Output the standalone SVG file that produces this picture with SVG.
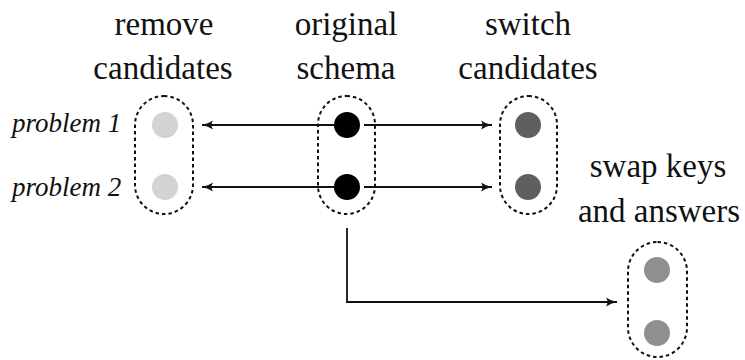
<svg xmlns="http://www.w3.org/2000/svg" width="745" height="360" viewBox="0 0 745 360">
<defs>
<marker id="ah" markerUnits="userSpaceOnUse" markerWidth="12" markerHeight="10" refX="11" refY="5" orient="auto">
<path d="M0,0.5 Q5,4 11,5 Q5,6 0,9.5 Q3,5 0,0.5 Z" fill="#111"/>
</marker>
</defs>
<rect width="745" height="360" fill="#fff"/>
<g id="labels" fill="#111">
<text font-family="'Liberation Serif'" font-size="33" text-anchor="middle" x="164" y="35">remove</text>
<text font-family="'Liberation Serif'" font-size="33" text-anchor="middle" x="163" y="79">candidates</text>
<text font-family="'Liberation Serif'" font-size="33" text-anchor="middle" x="346" y="35">original</text>
<text font-family="'Liberation Serif'" font-size="33" text-anchor="middle" x="346" y="79">schema</text>
<text font-family="'Liberation Serif'" font-size="33" text-anchor="middle" x="528" y="35">switch</text>
<text font-family="'Liberation Serif'" font-size="33" text-anchor="middle" x="528" y="79">candidates</text>
<text font-family="'Liberation Serif'" font-size="33" text-anchor="middle" x="658" y="177">swap keys</text>
<text font-family="'Liberation Serif'" font-size="33" text-anchor="middle" x="659" y="222">and answers</text>
<text font-family="'Liberation Serif'" font-size="27" font-style="italic" x="12" y="132">problem 1</text>
<text font-family="'Liberation Serif'" font-size="27" font-style="italic" x="12" y="196">problem 2</text>
</g>
<g id="connectors" fill="none" stroke="#111" stroke-width="1.8">
<line x1="334" y1="125" x2="202" y2="125" marker-end="url(#ah)"/>
<line x1="334" y1="187" x2="202" y2="187" marker-end="url(#ah)"/>
<line x1="364" y1="125" x2="492" y2="125" marker-end="url(#ah)"/>
<line x1="364" y1="187" x2="492" y2="187" marker-end="url(#ah)"/>
<polyline points="347,228 347,302 617,302" marker-end="url(#ah)"/>
</g>
<g id="remove">
<rect x="135" y="96" width="58" height="118" rx="29" fill="none" stroke="#111" stroke-width="2" stroke-dasharray="3.5 3"/>
<circle cx="165" cy="125" r="13" fill="#d3d3d3"/>
<circle cx="165" cy="187" r="13" fill="#d3d3d3"/>
</g>
<g id="original">
<rect x="318" y="96" width="57" height="118" rx="28.5" fill="none" stroke="#111" stroke-width="2" stroke-dasharray="3.5 3"/>
<circle cx="347" cy="125" r="13" fill="#000"/>
<circle cx="347" cy="187" r="13" fill="#000"/>
</g>
<g id="switch">
<rect x="500" y="96" width="57" height="118" rx="28.5" fill="none" stroke="#111" stroke-width="2" stroke-dasharray="3.5 3"/>
<circle cx="528" cy="125" r="13" fill="#5f5f5f"/>
<circle cx="528" cy="187" r="13" fill="#5f5f5f"/>
</g>
<g id="swap">
<rect x="628" y="242" width="59" height="115" rx="29.5" fill="none" stroke="#111" stroke-width="2" stroke-dasharray="3.5 3"/>
<circle cx="657" cy="270" r="13" fill="#8f8f8f"/>
<circle cx="657" cy="333" r="13" fill="#8f8f8f"/>
</g>
</svg>
